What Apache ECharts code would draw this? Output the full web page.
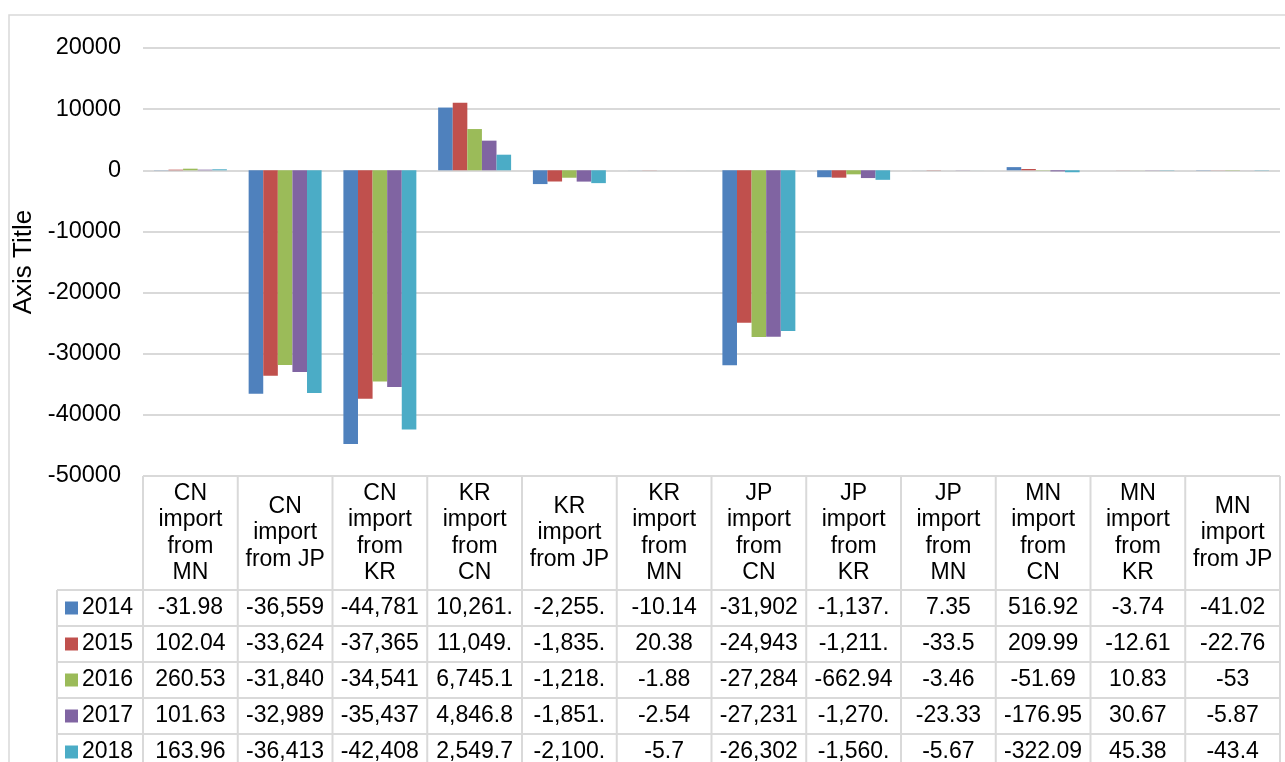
<!DOCTYPE html>
<html>
<head>
<meta charset="utf-8">
<script src="https://cdn.jsdelivr.net/npm/echarts@6/dist/echarts.min.js"></script>
<style>
  html, body { margin: 0; padding: 0; background: #fff; }
  #chart { width: 1285px; height: 762px; }
</style>
</head>
<body>
<div id="chart"></div>
<script>
// Categories (x axis / table header)
const categories = [
    'CN\nimport\nfrom\nMN', 'CN\nimport\nfrom JP', 'CN\nimport\nfrom\nKR',
    'KR\nimport\nfrom\nCN', 'KR\nimport\nfrom JP', 'KR\nimport\nfrom\nMN',
    'JP\nimport\nfrom\nCN', 'JP\nimport\nfrom\nKR', 'JP\nimport\nfrom\nMN',
    'MN\nimport\nfrom\nCN', 'MN\nimport\nfrom\nKR', 'MN\nimport\nfrom JP'
];
const years = ['2014', '2015', '2016', '2017', '2018'];

// Series values
const v2014 = [-31.98, -36559, -44781, 10261.3, -2255.4, -10.14, -31902, -1137.6, 7.35, 516.92, -3.74, -41.02];
const v2015 = [102.04, -33624, -37365, 11049.6, -1835.2, 20.38, -24943, -1211.4, -33.5, 209.99, -12.61, -22.76];
const v2016 = [260.53, -31840, -34541, 6745.1, -1218.7, -1.88, -27284, -662.94, -3.46, -51.69, 10.83, -53];
const v2017 = [101.63, -32989, -35437, 4846.8, -1851.3, -2.54, -27231, -1270.8, -23.33, -176.95, 30.67, -5.87];
const v2018 = [163.96, -36413, -42408, 2549.7, -2100.5, -5.7, -26302, -1560.2, -5.67, -322.09, 45.38, -43.4];

// Y axis ticks
const yMin = -50000;
const yMax = 20000;
const yStep = 10000;

const allValues = [v2014, v2015, v2016, v2017, v2018];
const colors = ['#4F81BD', '#C0504D', '#9BBB59', '#8064A2', '#4BACC6'];
const fontFam = "'Liberation Sans', Arial, sans-serif";
const lineColor = '#d9d9d9';

// Excel-like cell text: general format with thousands separators, cut to the cell width
function cellText(v) {
    return v.toLocaleString('en-US', { maximumFractionDigits: 2 }).slice(0, 7);
}

let chart = echarts.init(document.getElementById('chart'));

let option = {
    animation: false,
    backgroundColor: '#fff',
    grid: {
        left: 143,
        right: 5,
        top: 48,
        bottom: 286,
        containLabel: false,
        outerBoundsMode: 'none'
    },
    xAxis: {
        type: 'category',
        data: categories,
        position: 'bottom',
        axisLine: { show: false, onZero: false },
        axisTick: { show: false },
        splitLine: { show: false },
        axisLabel: {
            interval: 0,
            margin: 57,
            verticalAlign: 'middle',
            align: 'center',
            lineHeight: 26.5,
            fontSize: 23,
            fontFamily: fontFam,
            color: '#000'
        }
    },
    yAxis: {
        type: 'value',
        min: yMin,
        max: yMax,
        interval: yStep,
        name: 'Axis Title',
        nameLocation: 'middle',
        nameGap: 85,
        nameTextStyle: { fontSize: 26, fontFamily: fontFam, color: '#000' },
        axisLine: { show: false },
        axisTick: { show: false },
        axisLabel: {
            fontSize: 23.5, fontFamily: fontFam, color: '#000', margin: 22,
            formatter: v => String(v)
        },
        splitLine: { lineStyle: { color: lineColor, width: 2 } }
    },
    series: years.map((y, i) => ({
        name: y,
        type: 'bar',
        data: allValues[i],
        barGap: '0%',
        barCategoryGap: '23%',
        itemStyle: { color: colors[i] }
    }))
};

chart.setOption(option);

// Data table below the plot, placed from the axis scales
let xs = categories.map((c, i) => chart.convertToPixel({ xAxisIndex: 0 }, i));
let bandW = xs[1] - xs[0];
let tLeft = xs[0] - bandW / 2;
let tRight = xs[xs.length - 1] + bandW / 2;
let tTop = chart.convertToPixel({ yAxisIndex: 0 }, yMin);
let headerBottom = tTop + 114;
let rowH = 36;
let legendLeft = 57;

let g = [];
// outer chart border
g.push({
    type: 'rect', z: 0,
    shape: { x: 9, y: 15, width: 1300, height: 800 },
    style: { fill: 'none', stroke: lineColor, lineWidth: 1.5 }
});
function line(x1, y1, x2, y2) {
    g.push({
        type: 'line', z: 5,
        shape: { x1: x1, y1: y1, x2: x2, y2: y2 },
        style: { stroke: lineColor, lineWidth: 2 }
    });
}
for (let k = 0; k <= categories.length; k++) {
    line(tLeft + k * bandW, tTop, tLeft + k * bandW, 800);
}
line(legendLeft, headerBottom, legendLeft, 800);
line(tLeft, tTop, tRight, tTop);
for (let r = 0; r <= years.length; r++) {
    line(legendLeft, headerBottom + r * rowH, tRight, headerBottom + r * rowH);
}
years.forEach((y, r) => {
    let cy = headerBottom + (r + 0.5) * rowH;
    g.push({
        type: 'rect', z: 6,
        shape: { x: 65, y: cy - 6.5, width: 13, height: 13 },
        style: { fill: colors[r] }
    });
    g.push({
        type: 'text', z: 6,
        style: {
            text: y, x: 82, y: cy,
            fill: '#000', font: '23px ' + fontFam,
            align: 'left', verticalAlign: 'middle',
            textAlign: 'left', textVerticalAlign: 'middle'
        }
    });
    allValues[r].forEach((v, i) => {
        g.push({
            type: 'text', z: 6,
            style: {
                text: cellText(v), x: xs[i], y: cy,
                fill: '#000', font: '23px ' + fontFam,
                align: 'center', verticalAlign: 'middle',
                textAlign: 'center', textVerticalAlign: 'middle'
            }
        });
    });
});

chart.setOption({ graphic: g });
</script>
</body>
</html>
